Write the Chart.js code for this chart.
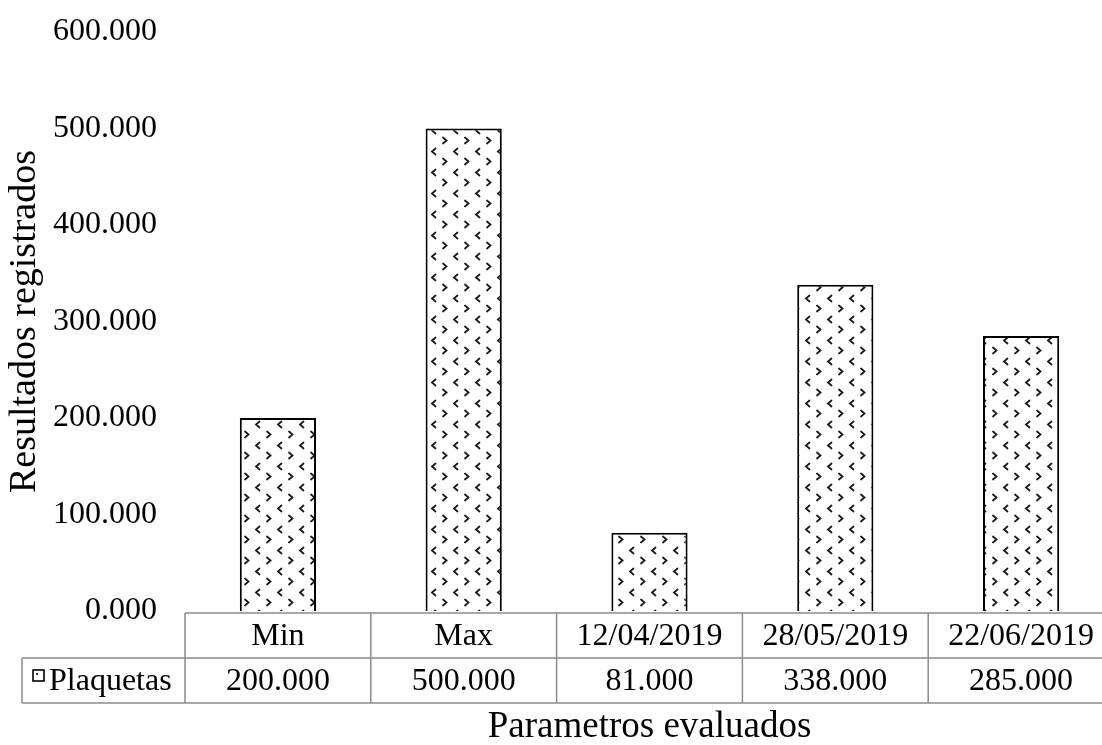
<!DOCTYPE html>
<html>
<head>
<meta charset="utf-8">
<script src="https://cdn.jsdelivr.net/npm/chart.js@4.4.1/dist/chart.umd.min.js"></script>
<style>
  html, body { margin: 0; padding: 0; background: #fff; overflow: hidden; }
  #wrap { width: 1102px; height: 745px; overflow: hidden; }
</style>
</head>
<body>
<div id="wrap"><canvas id="chart" width="1114" height="745"></canvas></div>
<script>
const categories = ['Min', 'Max', '12/04/2019', '28/05/2019', '22/06/2019'];
const seriesName = 'Plaquetas';
const plaquetas = [200, 500, 81, 338, 285];
const yTicks = [0, 100, 200, 300, 400, 500, 600];

const FONT = '"Liberation Serif", "Times New Roman", serif';
const fmt = v => v.toFixed(3);

// dotted chevron fill, like the office pattern
function makePattern() {
    const c = document.createElement('canvas');
    c.width = 22; c.height = 21;
    const g = c.getContext('2d');
    g.fillStyle = '#fff';
    g.fillRect(0, 0, 22, 21);
    g.strokeStyle = '#1a1a1a';
    g.lineWidth = 1.8;
    g.lineCap = 'round';
    // ">"
    g.beginPath();
    g.moveTo(3, 11.5); g.lineTo(6.5, 14.5); g.lineTo(3, 17.5);
    g.stroke();
    // "<"
    g.beginPath();
    g.moveTo(17.5, 1.5); g.lineTo(14, 4.5); g.lineTo(17.5, 7.5);
    g.stroke();
    return g.createPattern(c, 'repeat');
}
const fill = makePattern();

const tablePlugin = {
    id: 'dataTable',
    afterDraw(chart) {
        const { ctx, chartArea } = chart;
        const x = chart.scales.x;
        const n = categories.length;
        const step = (chartArea.right - chartArea.left) / n;
        const top = chartArea.bottom + 2;
        const mid = top + 45;
        const bot = mid + 45;
        const legLeft = 22;

        ctx.save();
        ctx.strokeStyle = '#8c8c8c';
        ctx.lineWidth = 1.5;
        ctx.beginPath();
        ctx.moveTo(chartArea.left, top); ctx.lineTo(chartArea.right, top);
        ctx.moveTo(legLeft, mid); ctx.lineTo(chartArea.right, mid);
        ctx.moveTo(legLeft, bot); ctx.lineTo(chartArea.right, bot);
        ctx.moveTo(legLeft, mid); ctx.lineTo(legLeft, bot);
        for (let i = 0; i <= n; i++) {
            const xx = chartArea.left + i * step;
            ctx.moveTo(xx, top); ctx.lineTo(xx, bot);
        }
        ctx.stroke();

        ctx.fillStyle = '#000';
        ctx.font = '32px ' + FONT;
        ctx.textAlign = 'center';
        ctx.textBaseline = 'middle';
        categories.forEach((c, i) => {
            const cx = x.getPixelForValue(i);
            ctx.fillText(c, cx, (top + mid) / 2 + 1);
            ctx.fillText(fmt(plaquetas[i]), cx, (mid + bot) / 2 + 1);
        });

        // legend key
        ctx.fillStyle = '#fff';
        ctx.fillRect(33, 670, 11, 11);
        ctx.strokeStyle = '#000';
        ctx.lineWidth = 1.6;
        ctx.strokeRect(33, 670, 11, 11);
        ctx.fillStyle = '#333';
        ctx.fillRect(36, 673, 2, 2);
        ctx.fillStyle = '#000';
        ctx.textAlign = 'left';
        ctx.fillText(seriesName, 49, (mid + bot) / 2 + 1);

        // x axis title
        ctx.textAlign = 'center';
        ctx.font = '37px ' + FONT;
        ctx.fillText('Parametros evaluados', (chartArea.left + chartArea.right) / 2, 727);
        ctx.restore();
    }
};

new Chart(document.getElementById('chart'), {
    type: 'bar',
    data: {
        labels: categories,
        datasets: [{
            label: seriesName,
            data: plaquetas,
            backgroundColor: fill,
            borderColor: '#000',
            borderWidth: 2,
            categoryPercentage: 1,
            barPercentage: 0.41
        }]
    },
    options: {
        responsive: false,
        animation: false,
        layout: { padding: { top: 32, bottom: 134, left: 0, right: 0 } },
        plugins: {
            legend: { display: false },
            tooltip: { enabled: false }
        },
        scales: {
            x: { display: false },
            y: {
                min: 0, max: 600,
                afterBuildTicks: s => { s.ticks = yTicks.map(v => ({ value: v })); },
                afterFit: s => { s.width = 185; },
                grid: { display: false, drawTicks: true, tickLength: 28 },
                border: { display: false },
                ticks: {
                    padding: 0,
                    color: '#000',
                    font: { family: FONT, size: 32 },
                    callback: v => fmt(v)
                },
                title: {
                    display: true,
                    text: 'Resultados registrados',
                    color: '#000',
                    font: { family: FONT, size: 38 },
                    padding: { top: 2, bottom: 0 }
                }
            }
        }
    },
    plugins: [tablePlugin]
});
</script>
</body>
</html>
